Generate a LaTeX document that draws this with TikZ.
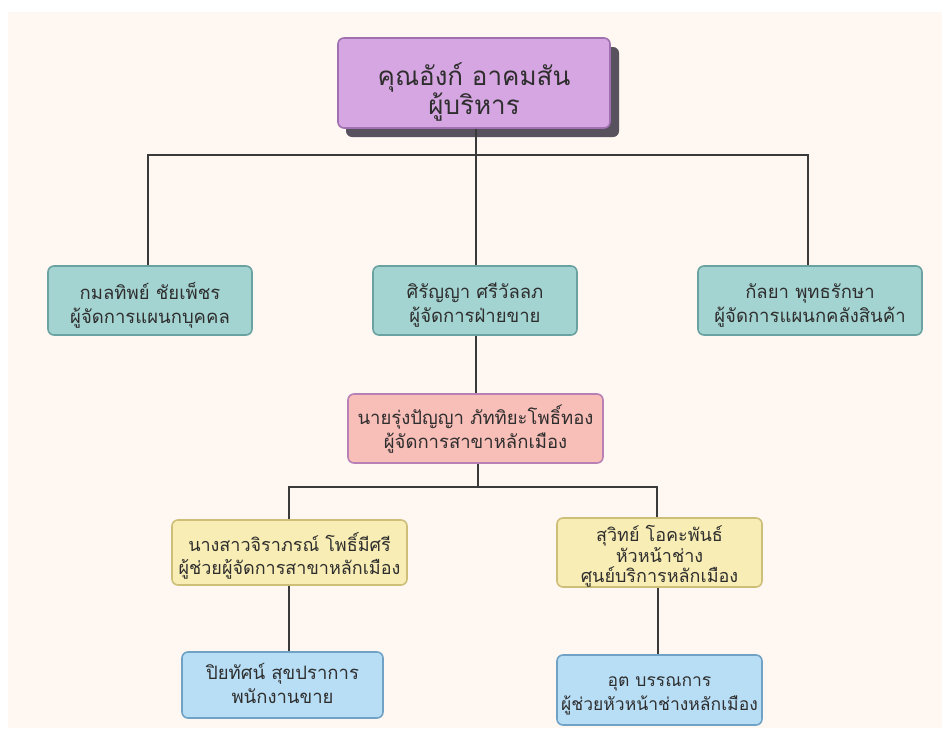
\documentclass[tikz,border=0pt]{standalone}
\usepackage{fontspec}
\newfontfamily\thai[Script=Thai]{Loma}
\definecolor{bgc}{HTML}{FFF8F2}
\definecolor{linec}{HTML}{3A3A3A}
\definecolor{txt}{HTML}{2E2E2E}
\definecolor{purpf}{HTML}{D6A6E2}
\definecolor{purpd}{HTML}{A070B0}
\definecolor{shad}{HTML}{57525E}
\definecolor{tealf}{HTML}{A4D4D2}
\definecolor{teald}{HTML}{6AA2A2}
\definecolor{pinkf}{HTML}{F8BEB8}
\definecolor{pinkd}{HTML}{B880B4}
\definecolor{yelf}{HTML}{F8EDB4}
\definecolor{yeld}{HTML}{CDBE78}
\definecolor{bluf}{HTML}{B8DEF6}
\definecolor{blud}{HTML}{70A2C6}
\tikzset{
  card/.style={draw, line width=1.6pt, rounded corners=6pt, inner sep=0pt},
  tealbox/.style={card, fill=tealf, draw=teald},
  pinkbox/.style={card, fill=pinkf, draw=pinkd},
  yelbox/.style={card, fill=yelf, draw=yeld},
  blubox/.style={card, fill=bluf, draw=blud},
  lbl/.style={align=center, text=txt, inner sep=0pt, font=\thai\fontsize{18.5}{24}\selectfont},
  conn/.style={draw=linec, line width=1.6pt},
}
\begin{document}
\begin{tikzpicture}[x=1pt,y=-1pt]
\useasboundingbox (0,0) rectangle (948,734);
\fill[white] (0,0) rectangle (948,734);
\fill[bgc] (8,12) rectangle (942,728);
\coordinate (j1) at (476,155);
\coordinate (j2) at (478,487);
% top box with shadow
\fill[shad, rounded corners=6pt] (346,47) rectangle (619,137);
\node[card, fill=purpf, draw=purpd, minimum width=272pt, minimum height=90pt] (top) at (474,83) {};
\node[lbl, font=\thai\fontsize{26}{29}\selectfont] (topt) at ([yshift=-9pt]top.center)
  {คุณอังก์ อาคมสัน\\ผู้บริหาร};
\node[tealbox, minimum width=204pt, minimum height=69pt] (b1) at (150,300.5) {};
\node[lbl] (b1t) at ([yshift=-5pt]b1.center) {กมลทิพย์ ชัยเพ็ชร\\ผู้จัดการแผนกบุคคล};
\node[tealbox, minimum width=204pt, minimum height=69pt] (b2) at (475,300.5) {};
\node[lbl] (b2t) at ([yshift=-5pt]b2.center) {ศิรัญญา ศรีวัลลภ\\ผู้จัดการฝ่ายขาย};
\node[tealbox, minimum width=224pt, minimum height=69pt] (b3) at (810,300.5) {};
\node[lbl] (b3t) at ([yshift=-5pt]b3.center) {กัลยา พุทธรักษา\\ผู้จัดการแผนกคลังสินค้า};
\node[pinkbox, minimum width=255pt, minimum height=69pt] (pk) at (475.5,428.5) {};
\node[lbl] (pkt) at ([yshift=-1pt]pk.center) {นายรุ่งปัญญา ภัททิยะโพธิ์ทอง\\ผู้จัดการสาขาหลักเมือง};
\node[yelbox, minimum width=235pt, minimum height=65pt] (y1) at (289.5,552.5) {};
\node[lbl, font=\thai\fontsize{18}{23}\selectfont] (y1t) at ([yshift=-3pt]y1.center) {นางสาวจิราภรณ์ โพธิ์มีศรี\\ผู้ช่วยผู้จัดการสาขาหลักเมือง};
\node[yelbox, minimum width=205pt, minimum height=69pt] (y2) at (659.5,552.5) {};
\node[lbl, font=\thai\fontsize{18}{20.5}\selectfont] (y2t) at ([yshift=-4pt]y2.center)
  {สุวิทย์ โอคะพันธ์\\หัวหน้าช่าง\\ศูนย์บริการหลักเมือง};
\node[blubox, minimum width=201pt, minimum height=66pt] (l1) at (282.5,685) {};
\node[lbl] (l1t) at ([yshift=2pt]l1.center) {ปิยทัศน์ สุขปราการ\\พนักงานขาย};
\node[blubox, minimum width=205pt, minimum height=70pt] (l2) at (659.5,690) {};
\node[lbl, font=\thai\fontsize{17.5}{23.5}\selectfont] (l2t) at ([yshift=-6pt]l2.center) {อุต บรรณการ\\ผู้ช่วยหัวหน้าช่างหลักเมือง};
\draw[conn] (top.south -| j1) -- (j1);
\draw[conn] (j1) -- (b2.north -| j1);
\draw[conn] (b1.north -| 148,0) |- (j1) -| (b3.north -| 808,0);
\draw[conn] (b2.south -| j1) -- (pk.north -| j1);
\draw[conn] (pk.south -| j2) -- (j2);
\draw[conn] (y1.north -| 289,0) |- (j2) -| (y2.north -| 657,0);
\draw[conn] (y1.south -| 289,0) -- (l1.north -| 289,0);
\draw[conn] (y2.south -| 658,0) -- (l2.north -| 658,0);
\end{tikzpicture}
\end{document}
